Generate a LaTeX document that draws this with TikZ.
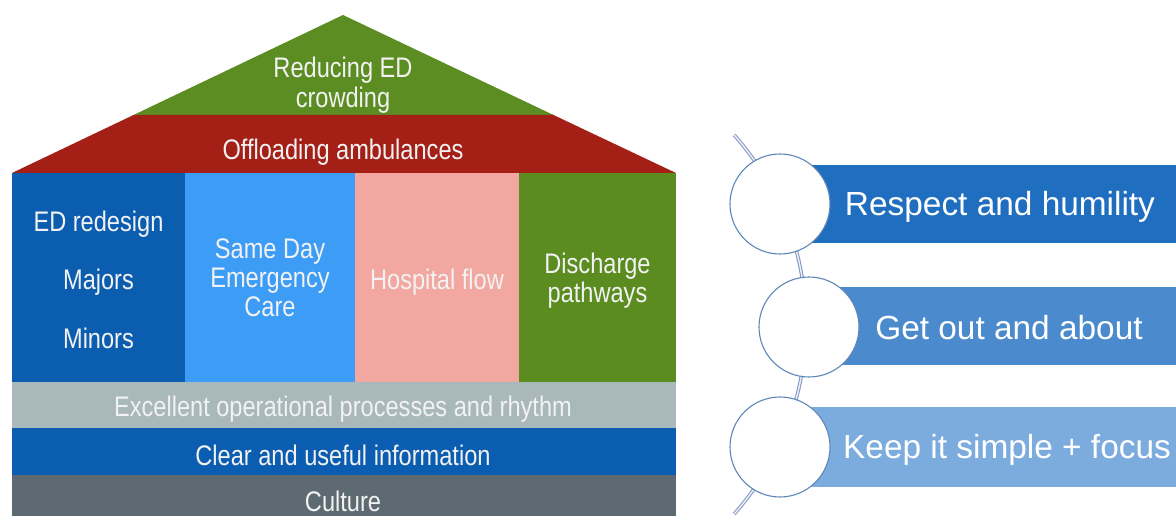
\documentclass[tikz,border=0pt]{standalone}
\usepackage{fontspec}
\setmainfont{Liberation Sans}
\usepackage{graphicx}
\definecolor{roofgreen}{HTML}{5B8D23}
\definecolor{roofred}{HTML}{A41F16}
\definecolor{edblue}{HTML}{0B5DB0}
\definecolor{sdecblue}{HTML}{3D9DF6}
\definecolor{flowpink}{HTML}{F2A8A0}
\definecolor{dischgreen}{HTML}{5A8C1F}
\definecolor{procgray}{HTML}{A8B8BB}
\definecolor{infoblue}{HTML}{0A5DB0}
\definecolor{culturegray}{HTML}{5E6A71}
\definecolor{pillone}{HTML}{1F6EBF}
\definecolor{pilltwo}{HTML}{4B8ACD}
\definecolor{pillthree}{HTML}{7CACDE}
\definecolor{ringline}{HTML}{7F92C4}
\definecolor{ringedge}{HTML}{5F86B8}
\definecolor{softwhite}{HTML}{F2F2F2}
% house labels are set slightly tall and narrow
\newcommand{\tallbox}[1]{\scalebox{1}[1.2]{#1}}
\tikzset{
  houselabel/.style={inner sep=0pt, text=softwhite, align=center,
    font=\fontsize{23.6}{24}\selectfont},
  pilllabel/.style={inner sep=0pt, text=white,
    font=\fontsize{33.4}{36}\selectfont},
  ring/.style={circle, draw=ringedge, line width=1.1pt, fill=white,
    minimum size=100pt, inner sep=0pt},
}
\begin{document}
\begin{tikzpicture}[x=1pt, y=-1pt]
\useasboundingbox (0,0) rectangle (1176,516);
\fill[white] (0,0) rectangle (1176,516);

% ---- roof ----
\fill[roofgreen] (343,15) -- (553.5,115) -- (133.5,115) -- cycle;
\fill[roofred] (133.5,115) -- (553.5,115) -- (676,173) -- (12,173) -- cycle;

% ---- pillars ----
\fill[edblue]     (12,173)  rectangle (185,382);
\fill[sdecblue]   (185,173) rectangle (355,382);
\fill[flowpink]   (355,173) rectangle (519,382);
\fill[dischgreen] (519,173) rectangle (676,382);

% ---- foundations ----
\fill[procgray]    (12,382) rectangle (676,428);
\fill[infoblue]    (12,428) rectangle (676,475);
\fill[culturegray] (12,475) rectangle (676,516);

% ---- house labels ----
\node[houselabel] (goal) at (343,86.5) {\tallbox{\begin{tabular}{@{}c@{}}Reducing ED\\crowding\end{tabular}}};
\node[houselabel] (offload) at (343,152) {\tallbox{Offloading ambulances}};
\node[houselabel] (redesign) at (98.5,224) {\tallbox{ED redesign}};
\node[houselabel] (majors) at (98.5,282) {\tallbox{Majors}};
\node[houselabel] (minors) at (98.5,338) {\tallbox{Minors}};
\node[houselabel] (sdec) at (270,281.5) {\tallbox{\begin{tabular}{@{}c@{}}Same Day\\Emergency\\Care\end{tabular}}};
\node[houselabel] (flow) at (437,282) {\tallbox{Hospital flow}};
\node[houselabel] (discharge) at (597.5,282) {\tallbox{\begin{tabular}{@{}c@{}}Discharge\\pathways\end{tabular}}};
\node[houselabel] (process) at (343,409) {\tallbox{Excellent operational processes and rhythm}};
\node[houselabel] (info) at (343,455) {\tallbox{Clear and useful information}};
\node[houselabel] (culture) at (343,501) {\tallbox{Culture}};

% ---- principles ----
\fill[pillone]   (780,165) rectangle (1176,243);
\fill[pilltwo]   (809,287) rectangle (1176,365);
\fill[pillthree] (780,407) rectangle (1176,487);

\draw[ringline, double=white!85!ringline, line width=1pt, double distance=1.5pt]
  (520,324.5) ++(-41.5:286) arc[start angle=-41.5, end angle=41.5, radius=286];

\node[ring] (c1) at (780,204) {};
\node[ring] (c2) at (809,327) {};
\node[ring] (c3) at (780,447) {};

\node[pilllabel] (respect) at (1000,207) {Respect and humility};
\node[pilllabel] (about) at (1009,328) {Get out and about};
\node[pilllabel] (simple) at (1007,450) {Keep it simple + focus};
\end{tikzpicture}
\end{document}
